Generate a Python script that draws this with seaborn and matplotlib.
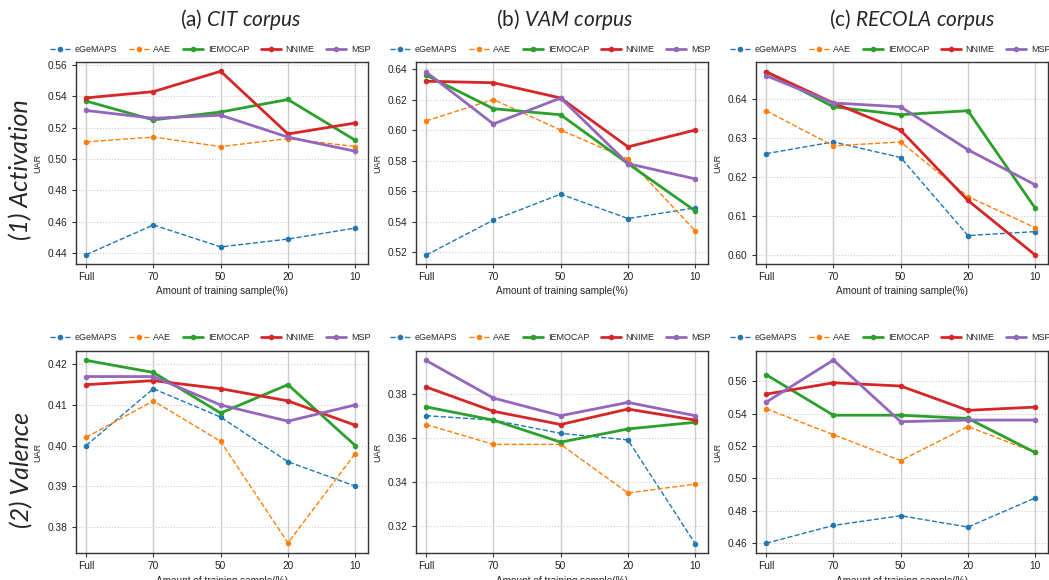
import numpy as np
import pandas as pd
import matplotlib
matplotlib.use('Agg')
import matplotlib.pyplot as plt
import seaborn as sns

# --- DATA ---
sample_labels = ['Full', '70', '50', '20', '10']
feature_sets = ['eGeMAPS', 'AAE', 'IEMOCAP', 'NNIME', 'MSP']

# (1) Activation
cit_act = {
    'eGeMAPS': [0.439, 0.458, 0.444, 0.449, 0.456],
    'AAE':     [0.511, 0.514, 0.508, 0.513, 0.508],
    'IEMOCAP': [0.537, 0.525, 0.530, 0.538, 0.512],
    'NNIME':   [0.539, 0.543, 0.556, 0.516, 0.523],
    'MSP':     [0.531, 0.526, 0.528, 0.514, 0.505],
}
vam_act = {
    'eGeMAPS': [0.518, 0.541, 0.558, 0.542, 0.549],
    'AAE':     [0.606, 0.620, 0.600, 0.581, 0.534],
    'IEMOCAP': [0.636, 0.614, 0.610, 0.578, 0.547],
    'NNIME':   [0.632, 0.631, 0.621, 0.589, 0.600],
    'MSP':     [0.638, 0.604, 0.621, 0.578, 0.568],
}
recola_act = {
    'eGeMAPS': [0.626, 0.629, 0.625, 0.605, 0.606],
    'AAE':     [0.637, 0.628, 0.629, 0.615, 0.607],
    'IEMOCAP': [0.647, 0.638, 0.636, 0.637, 0.612],
    'NNIME':   [0.647, 0.639, 0.632, 0.614, 0.600],
    'MSP':     [0.646, 0.639, 0.638, 0.627, 0.618],
}

# (2) Valence
cit_val = {
    'eGeMAPS': [0.400, 0.414, 0.407, 0.396, 0.390],
    'AAE':     [0.402, 0.411, 0.401, 0.376, 0.398],
    'IEMOCAP': [0.421, 0.418, 0.408, 0.415, 0.400],
    'NNIME':   [0.415, 0.416, 0.414, 0.411, 0.405],
    'MSP':     [0.417, 0.417, 0.410, 0.406, 0.410],
}
vam_val = {
    'eGeMAPS': [0.370, 0.368, 0.362, 0.359, 0.312],
    'AAE':     [0.366, 0.357, 0.357, 0.335, 0.339],
    'IEMOCAP': [0.374, 0.368, 0.358, 0.364, 0.367],
    'NNIME':   [0.383, 0.372, 0.366, 0.373, 0.368],
    'MSP':     [0.395, 0.378, 0.370, 0.376, 0.370],
}
recola_val = {
    'eGeMAPS': [0.460, 0.471, 0.477, 0.470, 0.488],
    'AAE':     [0.543, 0.527, 0.511, 0.532, 0.516],
    'IEMOCAP': [0.564, 0.539, 0.539, 0.537, 0.516],
    'NNIME':   [0.552, 0.559, 0.557, 0.542, 0.544],
    'MSP':     [0.547, 0.573, 0.535, 0.536, 0.536],
}

# --- STYLE ---
sns.set_style('white')
plt.rcParams['font.family'] = ['Liberation Sans', 'DejaVu Sans']
plt.rcParams['mathtext.fontset'] = 'custom'
plt.rcParams['mathtext.rm'] = 'Lato'
plt.rcParams['mathtext.it'] = 'Lato:italic'

colors = {'eGeMAPS': '#1f77b4', 'AAE': '#ff7f0e', 'IEMOCAP': '#2ca02c',
          'NNIME': '#d62728', 'MSP': '#9467bd'}
dashed = {'eGeMAPS', 'AAE'}

W, H = 1049, 580
fig = plt.figure(figsize=(W / 100, H / 100), dpi=100)

col_left = [76, 416, 756]          # px
row_top = [62, 351]                # px
ax_w, ax_h = 292, 202

panels = [
    [(cit_act, (0.4331, 0.5619)), (vam_act, (0.5122, 0.6446)), (recola_act, (0.5977, 0.6495))],
    [(cit_val, (0.3735, 0.4233)), (vam_val, (0.3078, 0.3993)), (recola_val, (0.4540, 0.5786))],
]
legend_y = [50, 338]

for r in range(2):
    for c in range(3):
        data, ylim = panels[r][c]
        rect = [col_left[c] / W, 1 - (row_top[r] + ax_h) / H, ax_w / W, ax_h / H]
        ax = fig.add_axes(rect)
        for name in feature_sets:
            df = pd.DataFrame({'pos': np.arange(len(sample_labels)), 'uar': data[name]})
            is_dash = name in dashed
            sns.lineplot(data=df, x='pos', y='uar', ax=ax, sort=False,
                         color=colors[name], label=name,
                         linestyle='--' if is_dash else '-',
                         linewidth=1.0 if is_dash else 2.0,
                         marker='o', markersize=4, markeredgewidth=0)
        ax.set_xticks(range(len(sample_labels)))
        ax.set_xticklabels(sample_labels)
        ax.set_xlim(-0.15, 4.19)
        ax.set_ylim(*ylim)
        ax.set_xlabel('Amount of training sample(%)', fontsize=7.2, labelpad=3)
        ax.set_ylabel('UAR', fontsize=6.5, labelpad=4)
        ax.tick_params(axis='both', labelsize=7.3, length=3, width=0.8,
                       color='#333333', labelcolor='#222222',
                       left=True, bottom=True, pad=3)
        ax.grid(axis='x', color='#cccccc', linewidth=1.0, linestyle='-')
        ax.grid(axis='y', color='#cccccc', linewidth=0.8, linestyle=':')
        for sp in ax.spines.values():
            sp.set_color('#333333')
            sp.set_linewidth(1.0)
        ax.legend(loc='center left',
                  bbox_to_anchor=((col_left[c] - 26) / W, 1 - legend_y[r] / H),
                  bbox_transform=fig.transFigure, ncol=5, frameon=False,
                  fontsize=6.5, borderaxespad=0, borderpad=0,
                  handlelength=2.2, handletextpad=0.5, columnspacing=1.33)

# column titles
titles = [r'(a) $\mathit{CIT\ corpus}$', r'(b) $\mathit{VAM\ corpus}$',
          r'(c) $\mathit{RECOLA\ corpus}$']
title_x = [241, 565, 912]
for t, x in zip(titles, title_x):
    fig.text(x / W, 1 - 20 / H, t, ha='center', va='center',
             fontsize=15, family='Lato')

# row labels
fig.text(21 / W, 1 - 170 / H, '(1) Activation', rotation=90, ha='center',
         va='center', fontsize=18, family='Lato', style='italic')
fig.text(22 / W, 1 - 470 / H, '(2) Valence', rotation=90, ha='center',
         va='center', fontsize=18, family='Lato', style='italic')

fig.savefig('out.png', dpi=100)
